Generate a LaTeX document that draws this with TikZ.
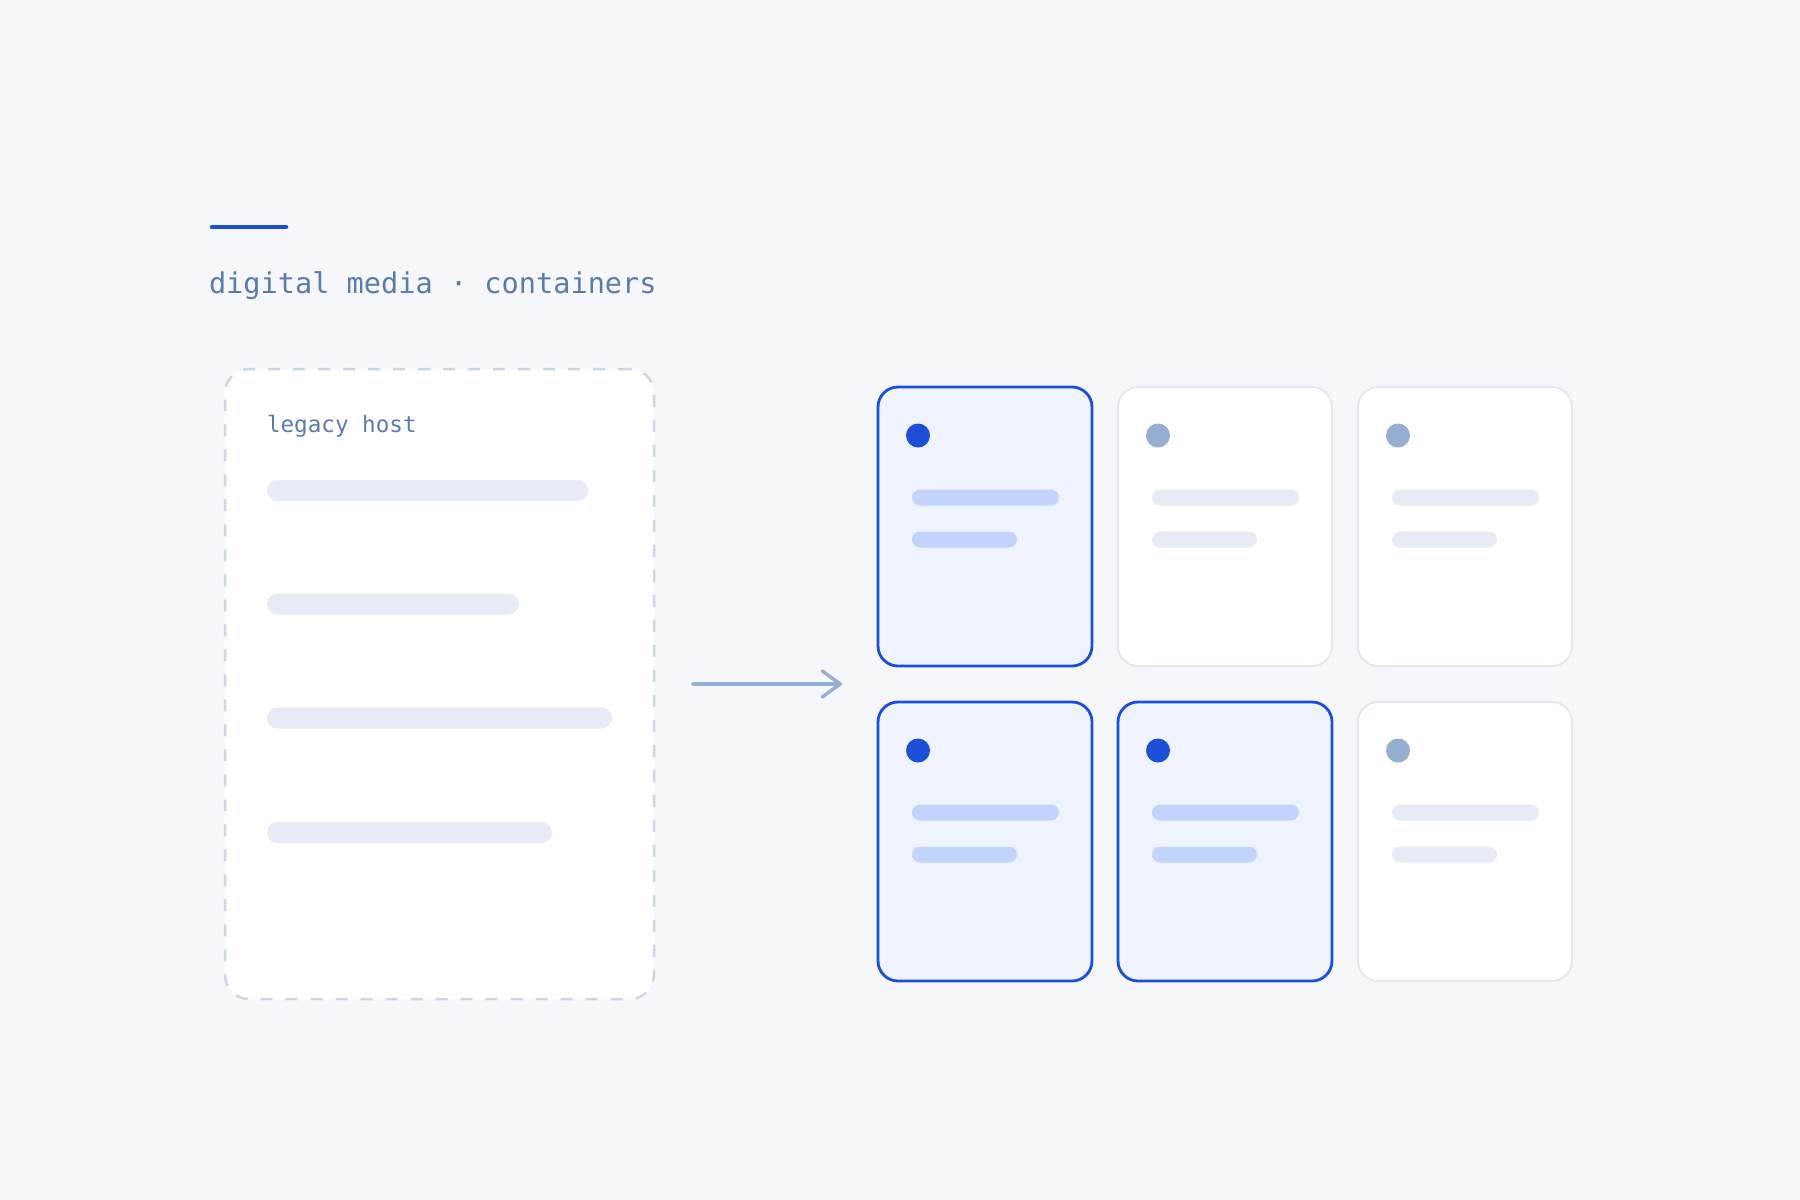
\documentclass[tikz,border=0pt]{standalone}
\usepackage{fontspec}
\setmonofont{DejaVu Sans Mono}
\usetikzlibrary{arrows.meta}
\definecolor{bgcol}{HTML}{F5F7FB}
\definecolor{accent}{HTML}{1D4ED8}
\definecolor{titlecol}{HTML}{5B7BA8}
\definecolor{dashcol}{HTML}{CDD7E4}
\definecolor{barcol}{HTML}{E6EBF5}
\definecolor{activefill}{HTML}{EEF3FE}
\definecolor{activebar}{HTML}{C2D4FB}
\definecolor{idleline}{HTML}{E4E8F0}
\definecolor{mutedcol}{HTML}{94AFD0}
\tikzset{
  every node/.style={inner sep=0pt, outer sep=0pt},
  hostbox/.style={draw=dashcol, fill=white, line width=2.5pt, dash pattern=on 12pt off 13pt, rounded corners=24pt, minimum width=429pt, minimum height=630pt, anchor=north west},
  hostbar/.style={fill=barcol, rounded corners=10.5pt, minimum height=21pt, anchor=west},
  cardbase/.style={rounded corners=20pt, minimum width=214pt, minimum height=279pt, anchor=north west},
  activecard/.style={cardbase, draw=accent, fill=activefill, line width=2.8pt},
  idlecard/.style={cardbase, draw=idleline, fill=white, line width=2pt},
  activedot/.style={circle, fill=accent, minimum size=24pt},
  idledot/.style={circle, fill=mutedcol, minimum size=24pt},
  activepill/.style={fill=activebar, rounded corners=8pt, minimum height=16pt, anchor=west},
  idlepill/.style={fill=barcol, rounded corners=8pt, minimum height=16pt, anchor=west},
  flow/.style={draw=mutedcol, line width=3.5pt, line cap=round, -{Straight Barb[length=18pt,width=26pt,round]}},
}
\begin{document}
\begin{tikzpicture}[x=1pt,y=-1pt]
\fill[bgcol] (0,0) rectangle (1800,1200);
\useasboundingbox (0,0) rectangle (1800,1200);

% header
\draw[accent, line width=4.5pt, line cap=round] (212,227) coordinate (acc1) -- (286,227) coordinate (acc2);
\node[anchor=base west, text=titlecol, font=\ttfamily\fontsize{28.6}{34}\selectfont] (title) at (209,293) {digital media · containers};

% legacy host
\node[hostbox] (host) at (225,369) {};
\node[anchor=base west, text=titlecol, font=\ttfamily\fontsize{22.6}{27}\selectfont] (hostlabel) at (267,432) {legacy host};
\node[hostbar, minimum width=321pt] (hb1) at (267,490.5) {};
\node[hostbar, minimum width=252pt] (hb2) at (267,604) {};
\node[hostbar, minimum width=345pt] (hb3) at (267,718) {};
\node[hostbar, minimum width=285pt] (hb4) at (267,832.5) {};

% cards
\node[activecard] (c11) at (878,387) {};
\node[idlecard]   (c12) at (1118,387) {};
\node[idlecard]   (c13) at (1358,387) {};
\node[activecard] (c21) at (878,702) {};
\node[activecard] (c22) at (1118,702) {};
\node[idlecard]   (c23) at (1358,702) {};

\foreach \c/\k in {c11/active, c12/idle, c13/idle, c21/active, c22/active, c23/idle}{
  \node[\k dot] (\c dot) at ([xshift=40pt,yshift=-48.5pt]\c.north west) {};
  \node[\k pill, minimum width=147pt] (\c bara) at ([xshift=34pt,yshift=-110.5pt]\c.north west) {};
  \node[\k pill, minimum width=105pt] (\c barb) at ([xshift=34pt,yshift=-152.5pt]\c.north west) {};
}

% arrow
\coordinate (arrs) at ([xshift=39pt]host.east);
\coordinate (arre) at ([xshift=-36pt]host.east -| c21.west);
\draw[flow] (arrs) -- (arre);
\end{tikzpicture}
\end{document}
